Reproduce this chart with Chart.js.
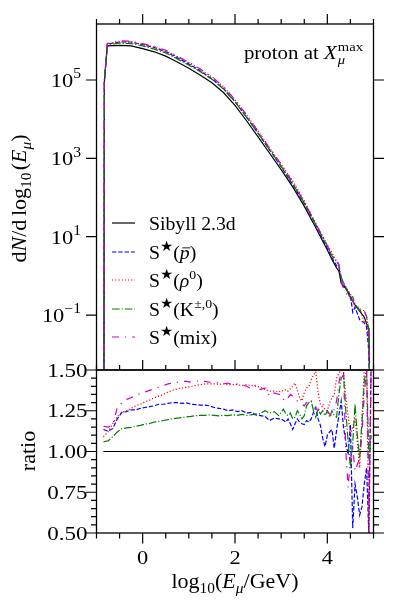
<!DOCTYPE html>
<html>
<head>
<meta charset="utf-8">
<script src="https://cdn.jsdelivr.net/npm/chart.js@4.4.1/dist/chart.umd.min.js"></script>
<style>
  html, body { margin: 0; padding: 0; background: #fff; }
  #wrap { position: relative; width: 399px; height: 608px; overflow: hidden; }
  canvas { position: absolute; left: 0; top: 0; }
</style>
</head>
<body>
<div id="wrap">
  <canvas id="topChart" width="399" height="608"></canvas>
  <canvas id="ratioChart" width="399" height="608"></canvas>
</div>
<script>
// ---- data ----
const seriesLabels = ["Sibyll 2.3d", "S★(p̄)", "S★(ρ0)", "S★(K±,0)", "S★(mix)"];

// upper panel: log10(E_mu / GeV) and log10(dN/dlog10 E_mu)
const topX      = [-0.84, -0.83, -0.765, -0.5, -0.25, 0, 0.25, 0.5, 0.75, 1, 1.25, 1.5, 1.75, 2, 2.25, 2.5, 2.75, 3, 3.25, 3.5, 3.75, 4, 4.1, 4.2, 4.25, 4.3, 4.35, 4.4, 4.5, 4.55, 4.6, 4.7, 4.8, 4.85, 4.9, 4.93];
const sibyllLog = [-4, 4.95, 5.87, 5.885, 5.87, 5.80, 5.72, 5.61, 5.46, 5.30, 5.12, 4.93, 4.68, 4.35, 3.96, 3.55, 3.13, 2.71, 2.27, 1.78, 1.23, 0.66, 0.42, 0.20, 0.12, -0.18, -0.26, -0.32, -0.55, -0.64, -0.74, -0.90, -1.05, -1.22, -1.35, -4];
const pbarLog   = [-4, 4.97, 5.92, 5.97, 5.97, 5.90, 5.83, 5.72, 5.57, 5.41, 5.23, 5.03, 4.78, 4.45, 4.05, 3.64, 3.21, 2.79, 2.33, 1.85, 1.30, 0.70, 0.46, 0.26, 0.21, -0.06, -0.20, -0.31, -0.50, -0.93, -0.80, -1.12, -1.20, -1.30, -1.95, -4];
const rho0Log   = [-4, 4.97, 5.92, 5.975, 5.97, 5.91, 5.84, 5.74, 5.60, 5.45, 5.27, 5.08, 4.83, 4.50, 4.11, 3.70, 3.27, 2.85, 2.42, 1.92, 1.34, 0.79, 0.59, 0.37, 0.27, -0.05, -0.18, -0.28, -0.47, -0.61, -0.79, -0.80, -1.20, -1.14, -1.67, -4];
const kaonLog   = [-4, 4.96, 5.90, 5.94, 5.93, 5.87, 5.79, 5.69, 5.54, 5.38, 5.21, 5.02, 4.77, 4.44, 4.05, 3.64, 3.22, 2.80, 2.35, 1.87, 1.31, 0.76, 0.51, 0.37, 0.28, -0.02, -0.18, -0.29, -0.57, -0.53, -0.73, -0.88, -0.89, -1.04, -1.37, -4];
const mixLog    = [-4, 4.98, 5.93, 6.00, 5.99, 5.93, 5.86, 5.76, 5.61, 5.45, 5.28, 5.08, 4.83, 4.50, 4.11, 3.69, 3.26, 2.85, 2.39, 1.88, 1.33, 0.77, 0.52, 0.38, 0.30, -0.16, -0.32, -0.43, -0.61, -0.63, -0.78, -0.88, -0.90, -1.04, -1.42, -4];

// lower panel: ratio to Sibyll 2.3d
const ratioX = [-0.85, -0.75, -0.65, -0.55, -0.45, -0.35, -0.25, -0.15, -0.05,
  0.05, 0.15, 0.25, 0.35, 0.45, 0.55, 0.65, 0.75, 0.85, 0.95,
  1.05, 1.15, 1.25, 1.35, 1.45, 1.55, 1.65, 1.75, 1.85, 1.95,
  2.05, 2.15, 2.25, 2.35, 2.45, 2.55, 2.65, 2.75, 2.85, 2.95,
  3.0, 3.05, 3.1, 3.15, 3.2, 3.25, 3.3, 3.35, 3.4, 3.45,
  3.5, 3.55, 3.6, 3.65, 3.7, 3.75, 3.8, 3.85, 3.9, 3.95,
  4.0, 4.05, 4.1, 4.15, 4.2, 4.25, 4.3, 4.35, 4.4, 4.45,
  4.5, 4.55, 4.6, 4.65, 4.7, 4.75, 4.8, 4.85, 4.9, 4.95];
const pbarRatio = [1.135, 1.125, 1.14, 1.20, 1.24, 1.245, 1.255, 1.255, 1.265,
  1.27, 1.275, 1.28, 1.29, 1.29, 1.295, 1.30, 1.30, 1.295, 1.298,
  1.29, 1.287, 1.285, 1.285, 1.28, 1.27, 1.265, 1.26, 1.25, 1.255,
  1.245, 1.25, 1.235, 1.24, 1.225, 1.22, 1.215, 1.19, 1.205, 1.20,
  1.20, 1.19, 1.18, 1.20, 1.17, 1.135, 1.17, 1.20, 1.18, 1.17,
  1.165, 1.19, 1.18, 1.20, 1.24, 1.27, 1.20, 1.16, 1.08, 1.03,
  1.10, 1.12, 1.135, 1.02, 1.13, 1.22, 1.31, 1.15, 1.06, 0.98,
  1.165, 0.53, 0.80, 0.72, 0.61, 0.66, 0.80, 0.90, 0.48, 1.6];
const rho0Ratio = [1.09, 1.12, 1.17, 1.215, 1.24, 1.25, 1.265, 1.28, 1.29,
  1.305, 1.315, 1.33, 1.34, 1.35, 1.365, 1.375, 1.385, 1.39, 1.395,
  1.40, 1.405, 1.41, 1.415, 1.415, 1.415, 1.412, 1.415, 1.41, 1.41,
  1.41, 1.405, 1.41, 1.405, 1.40, 1.395, 1.38, 1.37, 1.37, 1.365,
  1.375, 1.37, 1.38, 1.37, 1.385, 1.40, 1.42, 1.38, 1.33, 1.31,
  1.36, 1.39, 1.40, 1.44, 1.47, 1.49, 1.36, 1.29, 1.27, 1.26,
  1.25, 1.30, 1.33, 1.35, 1.45, 1.48, 1.50, 1.49, 1.34, 1.22,
  1.10, 1.15, 1.21, 1.05, 0.90, 1.20, 1.51, 1.51, 0.48, 1.51];
const kaonRatio = [1.06, 1.065, 1.09, 1.12, 1.14, 1.145, 1.148, 1.155, 1.16,
  1.168, 1.172, 1.18, 1.185, 1.19, 1.195, 1.20, 1.205, 1.208, 1.212,
  1.215, 1.22, 1.222, 1.222, 1.225, 1.222, 1.218, 1.222, 1.22, 1.225,
  1.222, 1.228, 1.222, 1.225, 1.23, 1.232, 1.25, 1.235, 1.245, 1.22,
  1.24, 1.26, 1.23, 1.22, 1.235, 1.20, 1.21, 1.25, 1.23, 1.20,
  1.22, 1.28, 1.30, 1.31, 1.25, 1.21, 1.26, 1.23, 1.25, 1.22,
  1.25, 1.21, 1.25, 1.22, 1.21, 1.35, 1.45, 1.47, 1.25, 1.06,
  0.90, 1.05, 1.29, 1.10, 0.96, 1.18, 1.43, 1.51, 0.95, 1.10];
const mixRatio = [1.155, 1.15, 1.16, 1.27, 1.30, 1.32, 1.33, 1.345, 1.355,
  1.365, 1.375, 1.385, 1.395, 1.405, 1.415, 1.42, 1.425, 1.43, 1.43,
  1.425, 1.43, 1.435, 1.43, 1.425, 1.425, 1.42, 1.415, 1.42, 1.41,
  1.415, 1.41, 1.40, 1.385, 1.41, 1.38, 1.39, 1.34, 1.36, 1.35,
  1.35, 1.32, 1.31, 1.33, 1.35, 1.34, 1.32, 1.31, 1.30, 1.29,
  1.28, 1.30, 1.32, 1.31, 1.28, 1.26, 1.25, 1.27, 1.29, 1.27,
  1.25, 1.23, 1.22, 1.26, 1.31, 1.42, 1.49, 1.51, 1.00, 0.78,
  0.95, 1.02, 0.88, 0.92, 0.96, 1.10, 1.35, 1.51, 0.65, 1.51];
const sibyllRatioX = [-0.85, 4.93];
const sibyllRatio  = [1, 1];

// axes
const xMin = -1, xMax = 5;
const topMin = 3.95e-3, topMax = 2.69e6;
const ratioMin = 0.5, ratioMax = 1.5;
const xMajor = [0, 2, 4];
const xMinor = [-1, -0.5, 0.5, 1, 1.5, 2.5, 3, 3.5, 4.5, 5];
const topMajorExp = [-1, 1, 3, 5];
const ratioMajor = [0.5, 0.75, 1.0, 1.25, 1.5];
const ratioMinor = [0.55, 0.6, 0.65, 0.7, 0.8, 0.85, 0.9, 0.95, 1.05, 1.1, 1.15, 1.2, 1.3, 1.35, 1.4, 1.45];

// ---- styling ----
const FONT = '"Liberation Serif", "DejaVu Serif", "DejaVu Sans", serif';
const TXT_SX = 1.1;
const styles = [
  { color: "#000000", dash: [] },
  { color: "#0000ff", dash: [4.4, 1.9] },
  { color: "#ff0000", dash: [1.2, 2.0] },
  { color: "#008000", dash: [7.7, 1.9, 1.2, 1.9] },
  { color: "#cc00cc", dash: [7, 6, 1.2, 6] },
];
const area = { left: 96.5, right: 373.5, top: 24, mid: 370, bottom: 533 };

// ---- rich text helpers (sub/superscripts, italics) ----
function segFont(seg, size) {
  return (seg.it ? "italic " : "") + (size * (seg.s || 1)).toFixed(2) + "px " + FONT;
}

function richWidth(ctx, segs, size) {
  let w = 0;
  for (const seg of segs) {
    ctx.font = segFont(seg, size);
    if (!seg.keep) w += ctx.measureText(seg.t).width + (seg.gap || 0) * size;
  }
  return w;
}

function drawRich(ctx, segs, x, y, size, align, sx = TXT_SX) {
  const w = richWidth(ctx, segs, size) * sx;
  const x0 = align === "right" ? x - w : align === "center" ? x - w / 2 : x;
  ctx.save();
  ctx.translate(x0, y);
  ctx.scale(sx, 1);
  ctx.fillStyle = "#000";
  ctx.strokeStyle = "#000";
  ctx.textAlign = "left";
  ctx.textBaseline = "alphabetic";
  let cx = 0;
  for (const seg of segs) {
    ctx.font = segFont(seg, size);
    const sw = ctx.measureText(seg.t).width;
    const yy = (seg.dy || 0) * size;
    ctx.fillText(seg.t, cx, yy);
    if (seg.bar) {
      ctx.lineWidth = 0.9;
      ctx.beginPath();
      ctx.moveTo(cx + sw * 0.25, yy - size * 0.56);
      ctx.lineTo(cx + sw * 1.05, yy - size * 0.56);
      ctx.stroke();
    }
    if (!seg.keep) cx += sw + (seg.gap || 0) * size;
  }
  ctx.restore();
}

function drawTicks(ctx, scale, vals, len, side, a) {
  ctx.beginPath();
  for (const v of vals) {
    const p = scale.getPixelForValue(v);
    if (side === "top")    { ctx.moveTo(p, a.top);    ctx.lineTo(p, a.top - len); }
    if (side === "bottom") { ctx.moveTo(p, a.bottom); ctx.lineTo(p, a.bottom + len); }
    if (side === "left")   { ctx.moveTo(a.left, p);   ctx.lineTo(a.left - len, p); }
    if (side === "right")  { ctx.moveTo(a.right, p);  ctx.lineTo(a.right + len, p); }
  }
  ctx.stroke();
}

function drawFrame(ctx, a) {
  ctx.lineWidth = 1.3;
  ctx.strokeStyle = "#000";
  ctx.setLineDash([]);
  ctx.strokeRect(a.left, a.top, a.right - a.left, a.bottom - a.top);
}

const legendSegs = [
  [{ t: "Sibyll 2.3d" }],
  [{ t: "S" }, { t: "★", s: 0.75, dy: -0.38 }, { t: "(" }, { t: "p", it: 1, bar: 1 }, { t: ")" }],
  [{ t: "S" }, { t: "★", s: 0.75, dy: -0.38 }, { t: "(" }, { t: "ρ", it: 1 }, { t: "0", s: 0.7, dy: -0.38 }, { t: ")" }],
  [{ t: "S" }, { t: "★", s: 0.75, dy: -0.38 }, { t: "(K" }, { t: "±,0", s: 0.7, dy: -0.38 }, { t: ")" }],
  [{ t: "S" }, { t: "★", s: 0.75, dy: -0.38 }, { t: "(mix)" }],
];
const legendRows = [223, 252, 280, 309, 337];

// ---- chart builders ----
function lineSet(i, xs, ys, mapY) {
  return {
    label: seriesLabels[i],
    data: xs.map((x, k) => ({ x, y: mapY(ys[k]) })),
    borderColor: styles[i].color,
    borderDash: styles[i].dash,
    borderWidth: 1.2,
    pointRadius: 0,
    tension: 0,
    fill: false,
    clip: 0,
    order: 4 - i,
  };
}

function baseOptions(pad, yScale) {
  return {
    responsive: false,
    animation: false,
    devicePixelRatio: 1,
    events: [],
    layout: { padding: pad },
    plugins: { legend: { display: false }, tooltip: { enabled: false } },
    scales: {
      x: { type: "linear", min: xMin, max: xMax, display: false },
      y: yScale,
    },
  };
}

const pow10 = (v) => Math.pow(10, v);

const topPlugin = {
  id: "topFrame",
  afterDatasetsDraw(chart) {
    const { ctx, chartArea: a } = chart;
    const xs = chart.scales.x, ys = chart.scales.y;
    ctx.save();
    drawFrame(ctx, a);
    ctx.lineWidth = 1.2;
    drawTicks(ctx, xs, xMajor, 10, "top", a);
    drawTicks(ctx, xs, xMinor, 5, "top", a);
    const yt = topMajorExp.map(pow10);
    drawTicks(ctx, ys, yt, 10.5, "left", a);
    drawTicks(ctx, ys, yt, 10.5, "right", a);

    // y tick labels 10^n
    topMajorExp.forEach((e) => {
      const py = ys.getPixelForValue(pow10(e));
      drawRich(ctx, [{ t: "10" }, { t: e < 0 ? "−" + (-e) : String(e), s: 0.7, dy: -0.45 }], 81, py + 7, 19.5, "right", 1.15);
    });

    // y axis title
    ctx.save();
    ctx.translate(20, 198.5);
    ctx.rotate(-Math.PI / 2);
    drawRich(ctx, [
      { t: "d" }, { t: "N", it: 1 }, { t: "/d", gap: 0.17 }, { t: "log" }, { t: "10", s: 0.7, dy: 0.25, gap: 0.1 },
      { t: "(" }, { t: "E", it: 1 }, { t: "μ", it: 1, s: 0.7, dy: 0.25 }, { t: ")" },
    ], 0, 6, 20, "center");
    ctx.restore();

    // annotation
    drawRich(ctx, [
      { t: "proton at " }, { t: "X", it: 1, gap: 0.05 },
      { t: "μ", it: 1, s: 0.7, dy: 0.28, keep: 1 }, { t: "max", s: 0.7, dy: -0.42 },
    ], 363, 59, 19, "right");

    // legend
    legendRows.forEach((yc, i) => {
      ctx.save();
      ctx.strokeStyle = styles[i].color;
      ctx.lineWidth = 1.2;
      ctx.setLineDash(styles[i].dash);
      ctx.beginPath();
      ctx.moveTo(112, yc);
      ctx.lineTo(135, yc);
      ctx.stroke();
      ctx.restore();
      drawRich(ctx, legendSegs[i], 149, yc + 6.5, 19, "left", 1.04);
    });
    ctx.restore();
  },
};

const ratioPlugin = {
  id: "ratioFrame",
  afterDatasetsDraw(chart) {
    const { ctx, chartArea: a } = chart;
    const xs = chart.scales.x, ys = chart.scales.y;
    ctx.save();
    drawFrame(ctx, a);
    ctx.lineWidth = 1.2;
    drawTicks(ctx, xs, xMajor, 10, "top", a);
    drawTicks(ctx, xs, xMinor, 5, "top", a);
    drawTicks(ctx, xs, xMajor, 10.5, "bottom", a);
    drawTicks(ctx, xs, xMinor, 5.5, "bottom", a);
    drawTicks(ctx, ys, ratioMajor, 10.5, "left", a);
    drawTicks(ctx, ys, ratioMinor, 5.5, "left", a);
    drawTicks(ctx, ys, ratioMajor, 10.5, "right", a);
    drawTicks(ctx, ys, ratioMinor, 5.5, "right", a);

    ratioMajor.forEach((v) => {
      drawRich(ctx, [{ t: v.toFixed(2) }], 87.5, ys.getPixelForValue(v) + 6.7, 19.5, "right", 1.18);
    });
    xMajor.forEach((v) => {
      drawRich(ctx, [{ t: String(v) }], xs.getPixelForValue(v), 564, 19.5, "center", 1.15);
    });

    drawRich(ctx, [
      { t: "log" }, { t: "10", s: 0.7, dy: 0.25 }, { t: "(" }, { t: "E", it: 1 },
      { t: "μ", it: 1, s: 0.7, dy: 0.25 }, { t: "/GeV)" },
    ], 235, 588, 20, "center");

    ctx.save();
    ctx.translate(29, 451);
    ctx.rotate(-Math.PI / 2);
    drawRich(ctx, [{ t: "ratio" }], 0, 6, 20, "center");
    ctx.restore();
    ctx.restore();
  },
};

new Chart(document.getElementById("topChart"), {
  type: "line",
  data: {
    datasets: [
      lineSet(0, topX, sibyllLog, pow10),
      lineSet(1, topX, pbarLog, pow10),
      lineSet(2, topX, rho0Log, pow10),
      lineSet(3, topX, kaonLog, pow10),
      lineSet(4, topX, mixLog, pow10),
    ],
  },
  options: baseOptions(
    { left: area.left, right: 399 - area.right, top: area.top, bottom: 608 - area.mid },
    { type: "logarithmic", min: topMin, max: topMax, display: false }
  ),
  plugins: [topPlugin],
});

const same = (v) => v;
new Chart(document.getElementById("ratioChart"), {
  type: "line",
  data: {
    datasets: [
      lineSet(0, sibyllRatioX, sibyllRatio, same),
      lineSet(1, ratioX, pbarRatio, same),
      lineSet(2, ratioX, rho0Ratio, same),
      lineSet(3, ratioX, kaonRatio, same),
      lineSet(4, ratioX, mixRatio, same),
    ],
  },
  options: baseOptions(
    { left: area.left, right: 399 - area.right, top: area.mid, bottom: 608 - area.bottom },
    { type: "linear", min: ratioMin, max: ratioMax, display: false }
  ),
  plugins: [ratioPlugin],
});
</script>
</body>
</html>
